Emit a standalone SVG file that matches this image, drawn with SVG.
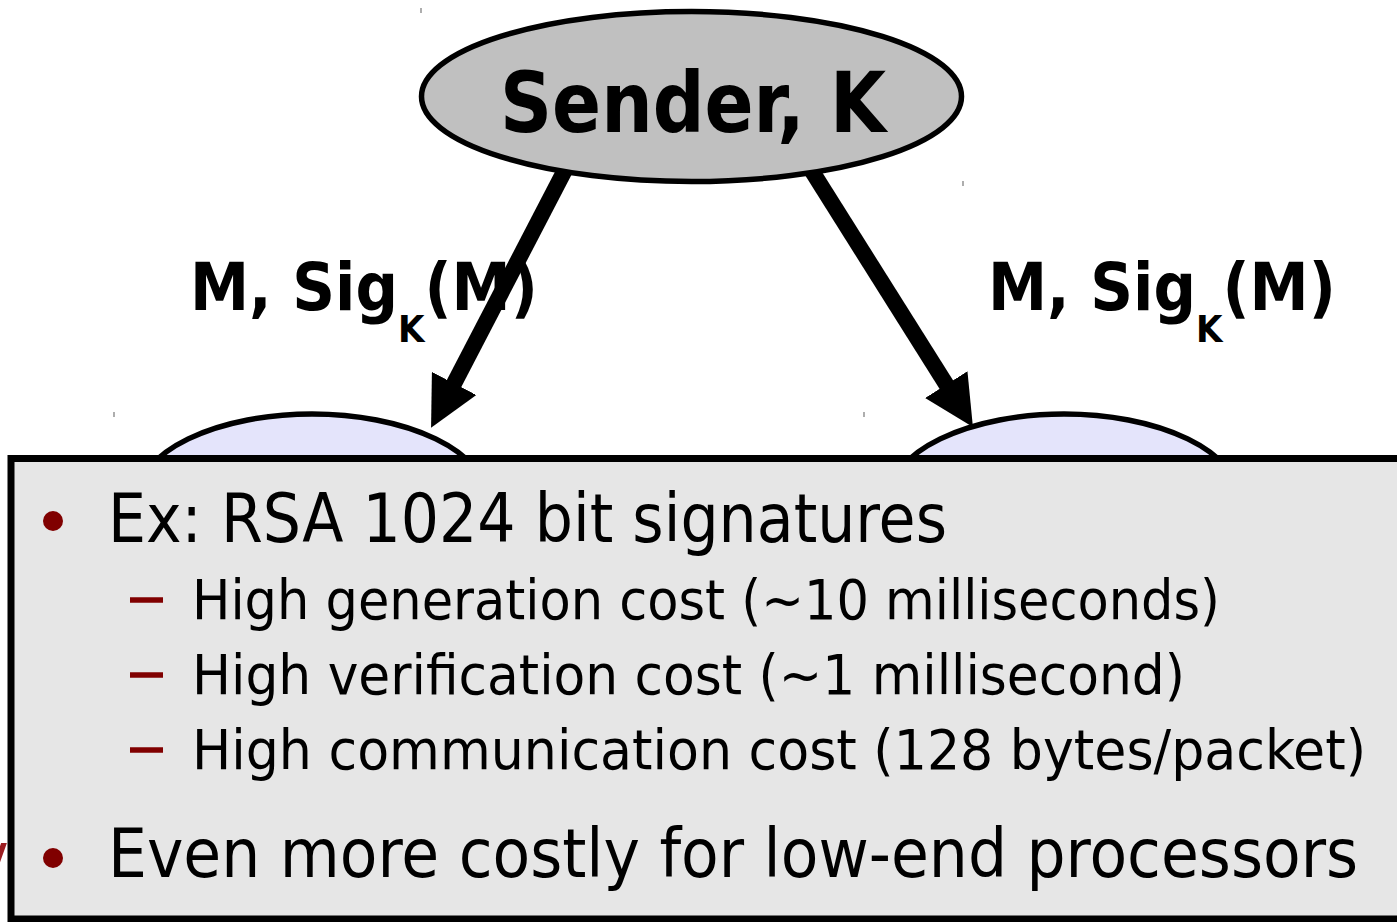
<svg xmlns="http://www.w3.org/2000/svg" width="1397" height="922" viewBox="0 0 1397 922">
  <style>
    .node-sender { fill: #c0c0c0; stroke: #000; stroke-width: 5.5; }
    .node-recv { fill: #e4e4fb; stroke: #000; stroke-width: 5.5; }
    .edge { stroke: #000; stroke-width: 16; fill: none; marker-end: url(#head); }
    .label { font-family: "DejaVu Sans Condensed", "DejaVu Sans", sans-serif; font-weight: bold; fill: #000; }
    .body { font-family: "DejaVu Sans Condensed", "DejaVu Sans", sans-serif; fill: #000; }
    .tick { stroke: #777; stroke-width: 1.2; }
    .bullet { fill: #800000; }
    .dash { stroke: #800000; stroke-width: 5.5; }
  </style>
  <defs>
    <marker id="head" viewBox="0 0 50 50" refX="28" refY="25" markerWidth="50" markerHeight="50" markerUnits="userSpaceOnUse" orient="auto">
      <path d="M0,0 L50,25 L0,50 z" fill="#000"/>
    </marker>
  </defs>

  <rect width="1397" height="922" fill="#fff"/>

  <!-- stray slide text partly hidden behind the panel -->
  <text x="-27" y="880" font-family="DejaVu Sans Condensed, DejaVu Sans, sans-serif" font-size="67" fill="#9b1c20">y</text>

  <!-- small guide marks -->
  <g id="marks">
    <line class="tick" x1="421" y1="8" x2="421" y2="13"/>
    <line class="tick" x1="963" y1="181" x2="963" y2="186"/>
    <line class="tick" x1="114" y1="412" x2="114" y2="417"/>
    <line class="tick" x1="864" y1="412" x2="864" y2="417"/>
  </g>

  <!-- receivers -->
  <g id="receiver-left">
    <ellipse class="node-recv" cx="312" cy="499" rx="175" ry="85"/>
  </g>
  <g id="receiver-right">
    <ellipse class="node-recv" cx="1064" cy="499" rx="175" ry="85"/>
  </g>

  <!-- signed messages sent to each receiver -->
  <g id="connectors">
    <line class="edge" x1="566" y1="168" x2="441.2" y2="408.3"/>
    <line class="edge" x1="810" y1="168" x2="961.2" y2="408.3"/>
  </g>

  <g id="sender">
    <ellipse class="node-sender" cx="691.5" cy="96.5" rx="270" ry="85"/>
    <text class="label" x="500" y="132" font-size="84" textLength="386" lengthAdjust="spacingAndGlyphs">Sender, K</text>
  </g>

  <g id="label-left">
    <text class="label" x="190" y="310" font-size="66">M, Sig<tspan font-size="38" dy="32">K</tspan><tspan dy="-32">(M)</tspan></text>
  </g>
  <g id="label-right">
    <text class="label" x="988" y="310" font-size="66">M, Sig<tspan font-size="38" dy="32">K</tspan><tspan dy="-32">(M)</tspan></text>
  </g>

  <!-- cost notes panel -->
  <g id="notes">
    <rect x="11" y="458.5" width="1420" height="460.5" fill="#e6e6e6" stroke="#000" stroke-width="7"/>
    <circle class="bullet" cx="53" cy="521" r="10"/>
    <text class="body" x="108" y="542" font-size="67" textLength="839" lengthAdjust="spacingAndGlyphs">Ex: RSA 1024 bit signatures</text>
    <line class="dash" x1="130" y1="600" x2="163" y2="600"/>
    <text class="body" x="192" y="619" font-size="56" textLength="1028" lengthAdjust="spacingAndGlyphs">High generation cost (~10 milliseconds)</text>
    <line class="dash" x1="130" y1="675" x2="163" y2="675"/>
    <text class="body" x="192" y="694" font-size="56" textLength="993" lengthAdjust="spacingAndGlyphs">High verification cost (~1 millisecond)</text>
    <line class="dash" x1="130" y1="750" x2="163" y2="750"/>
    <text class="body" x="192" y="769" font-size="56" textLength="1174" lengthAdjust="spacingAndGlyphs">High communication cost (128 bytes/packet)</text>
    <circle class="bullet" cx="53" cy="858" r="10"/>
    <text class="body" x="108" y="877" font-size="67" textLength="1250" lengthAdjust="spacingAndGlyphs">Even more costly for low-end processors</text>
  </g>
</svg>
